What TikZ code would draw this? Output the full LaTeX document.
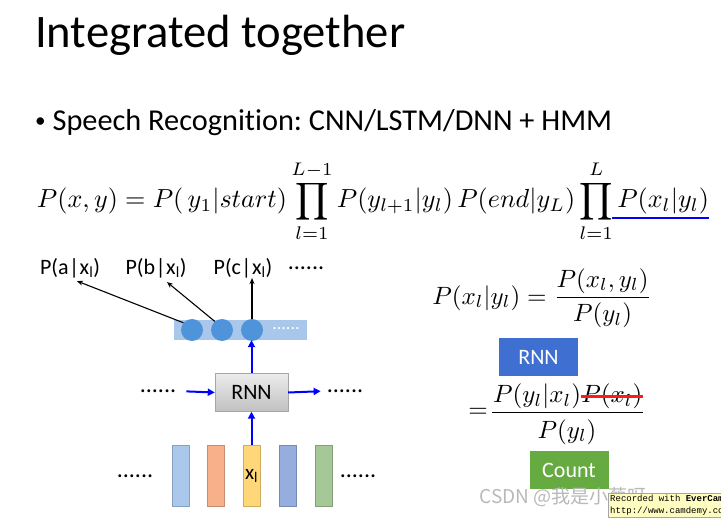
\documentclass[tikz,border=0pt]{standalone}
\usepackage{amsmath}
\usepackage{graphicx}
\usepackage{fontspec}
\setmainfont{Carlito}[Ligatures=NoCommon]
\newfontfamily\cjk{Noto Sans CJK SC}
\newfontfamily\evermono{Liberation Mono}
\usetikzlibrary{arrows.meta,calc}
\definecolor{stripbg}{HTML}{A9C7EB}
\definecolor{neuron}{HTML}{4F93DA}
\definecolor{rnngray}{HTML}{D6D6D6}
\definecolor{rnnblue}{HTML}{3F6FD0}
\definecolor{countgreen}{HTML}{66AA42}
\definecolor{fbA}{HTML}{A9C8EC}
\definecolor{fbB}{HTML}{F8B08A}
\definecolor{fbC}{HTML}{FFD779}
\definecolor{fbD}{HTML}{95AEDD}
\definecolor{fbE}{HTML}{A6C896}
\frenchspacing
\begin{document}
\begin{tikzpicture}[x=1pt,y=-1pt,
  lbl/.style={inner sep=0pt, font=\fontsize{22}{26}\selectfont},
  dotsnode/.style={inner sep=0pt, font=\fontsize{24}{28}\selectfont},
  probarrow/.style={-{Stealth[length=6pt,width=5pt]}, line width=1.1pt, black},
  flowarrow/.style={-{Triangle[length=7pt,width=7pt]}, line width=2pt, blue},
  neuronnode/.style={circle, fill=neuron, minimum size=22pt, inner sep=0pt},
  feat/.style={minimum width=17pt, minimum height=61pt, inner sep=0pt, draw=#1!80!black, fill=#1},
  rnngraybox/.style={draw=gray!70, top color=gray!15, bottom color=rnngray!90!black, minimum width=73pt, minimum height=38pt, inner sep=0pt, font=\fontsize{22}{26}\selectfont},
  tagbox/.style={fill=#1, text=white, minimum width=79pt, minimum height=38pt, inner sep=0pt, font=\fontsize{22}{26}\selectfont},
  mathnode/.style={inner sep=0pt}
]
\useasboundingbox[fill=white] (0,0) rectangle (721,518);

% title and bullet
\node[anchor=base west, inner sep=0pt] (title) at (35,48) {\resizebox{370pt}{!}{Integrated together}};
\node[anchor=base west, inner sep=0pt] (bullet) at (35,131) {\resizebox{577pt}{!}{{\fontsize{7}{8}\selectfont\raisebox{0.35ex}{\textbullet}}\ Speech Recognition: CNN/LSTM/DNN + HMM}};

% main equation
\node[mathnode] (maineq) at (373,201) {\resizebox{672pt}{!}{$\displaystyle P(x,y)=P(\,y_1|start)\prod_{l=1}^{L-1}P(y_{l+1}|y_l)\,P(end|y_L)\prod_{l=1}^{L}P(x_l|y_l)$}};
\coordinate (ulL) at (612,218);
\coordinate (ulR) at (709,218);
\draw[blue, line width=2.5pt] (ulL) -- (ulR);

% left diagram: output layer
\node[fill=stripbg, minimum width=133pt, minimum height=20pt, inner sep=0pt] (strip) at (240.5,330) {};
\node[neuronnode] (c1) at (192,330) {};
\node[neuronnode] (c2) at (222,330) {};
\node[neuronnode] (c3) at (252,330) {};
\node[inner sep=0pt, text=white, font=\fontsize{18}{20}\selectfont] (sdots) at (286,329) {......};

\node[lbl] (la) at (70,268) {P(a\kern0.5pt|\kern0.5pt x\textsubscript{l})};
\node[lbl] (lb) at (156,268) {P(b\kern0.5pt|\kern0.5pt x\textsubscript{l})};
\node[lbl] (lc) at (243,268) {P(c\kern0.5pt|\kern0.5pt x\textsubscript{l})};
\node[dotsnode] (ld) at (306,268) {......};

\draw[probarrow] (c1.140) -- ($(la.south)+(7,3)$);
\draw[probarrow] (c2.130) -- ($(lb.south)+(11,4)$);
\draw[probarrow] (c3.north) -- (c3.north |- lc.south);

% RNN
\node[rnngraybox] (rnn) at (251.5,392.5) {RNN};
\node[dotsnode] (lrd) at (158,391) {......};
\node[dotsnode] (rrd) at (345,391) {......};
\draw[flowarrow] (rnn.north) -- (rnn.north |- strip.south);
\draw[flowarrow, shorten <=10pt] (lrd.east) -- (rnn.west);
\draw[flowarrow, shorten >=6pt] (rnn.east) -- (rrd.west);

% feature bars
\node[feat=fbA] (f1) at (180.5,476) {};
\node[feat=fbB] (f2) at (215.5,476) {};
\node[feat=fbC, font=\fontsize{21}{24}\selectfont] (f3) at (251.5,476) {x\textsubscript{l}};
\node[feat=fbD] (f4) at (287.5,476) {};
\node[feat=fbE] (f5) at (323.5,476) {};
\node[dotsnode] (fld) at (135,476) {......};
\node[dotsnode] (frd) at (358,476) {......};
\draw[flowarrow] (f3.north) -- (rnn.south);

% right side
\node[mathnode] (eq1) at (542,298) {\scalebox{2.5}{$P(x_l|y_l)=\dfrac{P(x_l,y_l)}{P(y_l)}$}};
\node[tagbox=rnnblue] (rnnb) at (538.5,357.5) {RNN};
\node[mathnode] (eqsign) at (478,413) {\scalebox{2.5}{$=$}};
\node[mathnode, anchor=base west] (num1) at (493,403) {\scalebox{2.5}{$P(y_l|x_l)$}};
\node[mathnode, anchor=base west] (num2) at (num1.base east) {\scalebox{2.5}{$P(x_l)$}};
\coordinate (fbl) at (492,413);
\coordinate (fbr) at (643,413);
\draw[line width=1pt] (fbl) -- (fbr);
\node[mathnode] (den2) at (567,432) {\scalebox{2.5}{$P(y_l)$}};
\draw[red!90!white, line width=3pt] (num2.west) -- (num2.east);
\node[tagbox=countgreen] (count) at (569,470) {Count};

% watermarks
\node[inner sep=0pt, text=gray!55, font=\cjk\fontsize{19}{22}\selectfont] (wm) at (563,497) {CSDN @我是小蔡呀};
\begin{scope}
\clip (0,0) rectangle (721,518);
\node[anchor=north west, draw=gray!70, fill=yellow!25, inner sep=2pt, align=left, font=\evermono\fontsize{9}{12}\selectfont] (ever) at (608,493) {Recorded with \textbf{EverCam}\\http://www.camdemy.com};
\end{scope}
\end{tikzpicture}
\end{document}
